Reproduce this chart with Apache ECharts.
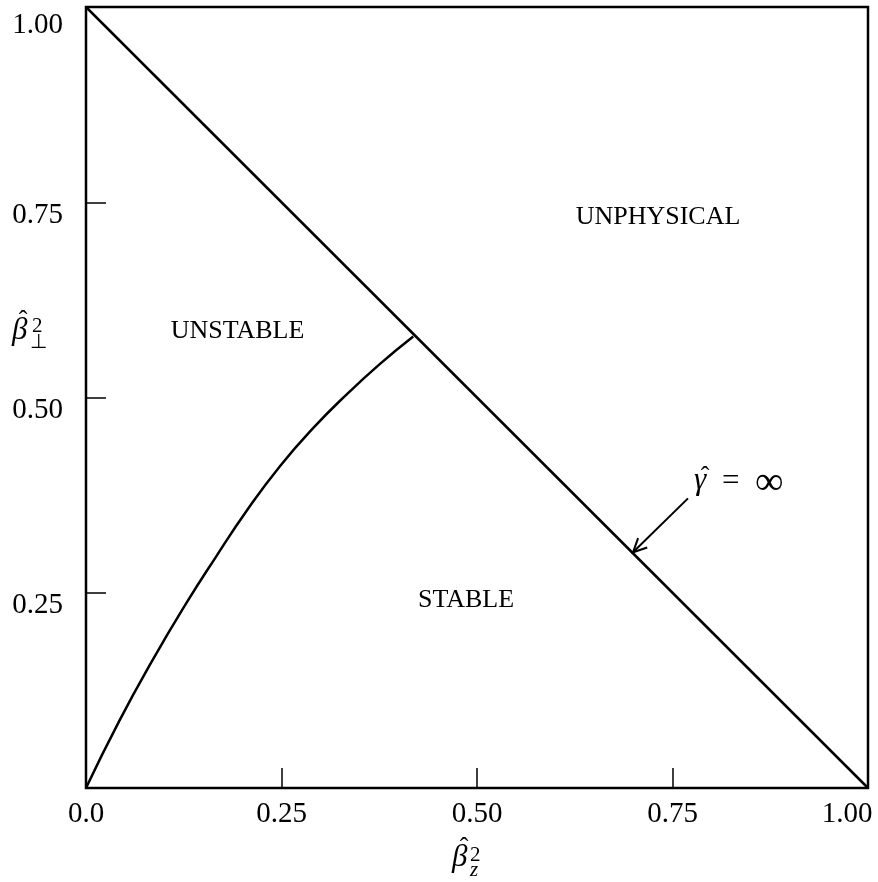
<!DOCTYPE html>
<html><head><meta charset="utf-8">
<script src="https://cdn.jsdelivr.net/npm/echarts@6/dist/echarts.min.js"></script>
<style>html,body{margin:0;padding:0;background:#fff}#c{width:878px;height:882px}</style>
</head><body><div id="c"></div>
<script>
// Boundary curve between STABLE and UNSTABLE regions
const curveX = [0, 0.0426, 0.0853, 0.1279, 0.1662, 0.2055, 0.248, 0.2907, 0.3334, 0.376, 0.4185];
const curveY = [0, 0.086, 0.164, 0.236, 0.296, 0.355, 0.412, 0.461, 0.504, 0.543, 0.578];
// Physical limit line  beta_z^2 + beta_perp^2 = 1
const limitX = [0, 1];
const limitY = [1, 0];
// Arrow pointing at the limit line (from, to)
const arrowFrom = [0.7698, 0.3708];
const arrowTo = [0.6995, 0.3018];
// Region labels
const regionNames = ['UNSTABLE', 'UNPHYSICAL', 'STABLE'];
const regionX = [0.1937, 0.7315, 0.486];
const regionY = [0.5844, 0.731, 0.240];
// Tick labels
const xTicks = ['0.0', '0.25', '0.50', '0.75', '1.00'];
const yTicks = ['', '0.25', '0.50', '0.75', '1.00'];

const FONT = 'Liberation Serif';
const chart = echarts.init(document.getElementById('c'));
const tickIndex = v => Math.round(v / 0.25);

function txt(text, x, y, size, opts) {
  opts = opts || {};
  return { type: 'text', x: x, y: y, silent: true, style: {
    text: text, fill: '#000', fontFamily: FONT, fontSize: size,
    fontStyle: opts.italic ? 'italic' : 'normal',
    align: opts.align || 'left', verticalAlign: 'middle' } };
}
const lab = { fontFamily: FONT, fontSize: 29, color: '#000' };

chart.setOption({
  animation: false,
  grid: { left: 86, right: 10, top: 7, bottom: 94, outerBoundsMode: 'none', containLabel: false,
    show: true, borderColor: '#000', borderWidth: 2.5, backgroundColor: 'transparent' },
  xAxis: {
    type: 'value', min: 0, max: 1, interval: 0.25,
    axisLine: { show: false },
    axisTick: { show: true, inside: true, length: 20, lineStyle: { color: '#000', width: 1.5 } },
    splitLine: { show: false },
    axisLabel: {
      formatter: v => { const i = tickIndex(v); return (i === 4 ? '{e|' : '{a|') + xTicks[i] + '}'; },
      margin: 12,
      rich: { a: Object.assign({}, lab), e: Object.assign({ padding: [0, 42, 0, 0] }, lab) }
    }
  },
  yAxis: {
    type: 'value', min: 0, max: 1, interval: 0.25,
    axisLine: { show: false },
    axisTick: { show: true, inside: true, length: 20, lineStyle: { color: '#000', width: 1.5 } },
    splitLine: { show: false },
    axisLabel: {
      formatter: v => { const i = tickIndex(v); return yTicks[i] ? ((i === 4 ? '{t|' : '{a|') + yTicks[i] + '}') : ''; },
      margin: 23,
      rich: { a: Object.assign({ padding: [26, 0, 0, 0] }, lab), t: Object.assign({ padding: [36, 0, 0, 0] }, lab) }
    }
  },
  series: [
    {
      type: 'line', data: curveX.map((x, i) => [x, curveY[i]]), smooth: 0.5, showSymbol: false,
      lineStyle: { color: '#000', width: 2.5 }
    },
    {
      type: 'line', data: limitX.map((x, i) => [x, limitY[i]]), showSymbol: false,
      lineStyle: { color: '#000', width: 2.5 }
    },
    {
      type: 'custom', data: [[arrowFrom[0], arrowFrom[1], arrowTo[0], arrowTo[1]]],
      renderItem: (params, api) => {
        const a = api.coord([api.value(0), api.value(1)]);
        const b = api.coord([api.value(2), api.value(3)]);
        const ang = Math.atan2(b[1] - a[1], b[0] - a[0]);
        const L = 15, spread = 0.45;
        const h1 = [b[0] - L * Math.cos(ang - spread), b[1] - L * Math.sin(ang - spread)];
        const h2 = [b[0] - L * Math.cos(ang + spread), b[1] - L * Math.sin(ang + spread)];
        const st = { stroke: '#000', lineWidth: 2, fill: null };
        return { type: 'group', children: [
          { type: 'line', shape: { x1: a[0], y1: a[1], x2: b[0], y2: b[1] }, style: st },
          { type: 'polyline', shape: { points: [h1, b, h2] }, style: st }
        ] };
      }
    },
    {
      type: 'scatter', symbolSize: 0, itemStyle: { opacity: 1, color: 'rgba(0,0,0,0)' },
      data: regionNames.map((n, i) => ({ value: [regionX[i], regionY[i]], name: n })),
      label: { show: true, position: 'inside', formatter: p => p.name, color: '#000', opacity: 1, fontFamily: FONT, fontSize: 26 }
    }
  ],
  graphic: [
    // x-axis name: beta-hat squared, subscript z
    txt('β', 452, 858, 31, { italic: true }),
    txt('ˆ', 464, 848, 26, { align: 'center' }),
    txt('2', 470, 855, 21),
    txt('z', 470, 870, 21, { italic: true }),
    // y-axis name: beta-hat squared, subscript perp
    txt('β', 12, 331, 31, { italic: true }),
    txt('ˆ', 23, 321, 26, { align: 'center' }),
    txt('2', 32, 326, 21),
    txt('⊥', 30, 343, 20),
    // gamma-hat = infinity
    txt('γ', 694, 481, 31, { italic: true }),
    txt('ˆ', 705, 477, 26, { align: 'center' }),
    txt('=', 722, 482, 31),
    txt('∞', 755, 483, 40)
  ]
});
</script></body></html>
